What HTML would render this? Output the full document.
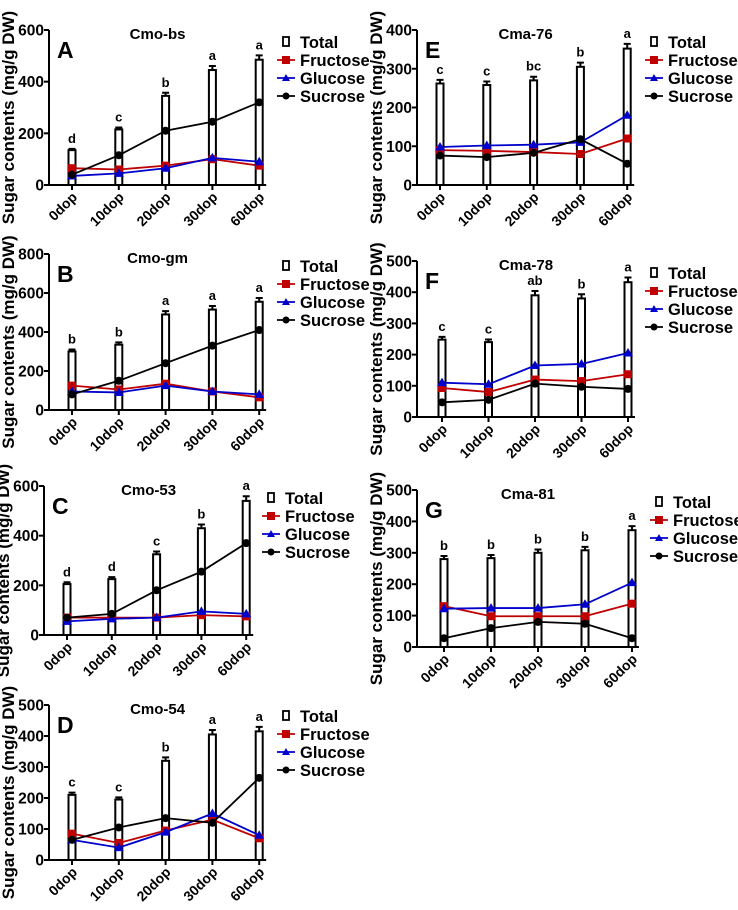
<!DOCTYPE html>
<html><head><meta charset="utf-8"><style>
html,body{margin:0;padding:0;background:#fff;}
svg{display:block;font-family:"Liberation Sans",Arial,sans-serif;font-weight:bold;}
</style></head><body>
<svg id="fig" width="738" height="910" viewBox="0 0 738 910" xmlns="http://www.w3.org/2000/svg"></svg>
<script>
const categories = ["0dop","10dop","20dop","30dop","60dop"];
const panelIds = ["A","B","C","D","E","F","G"];
const panelTitles = ["Cmo-bs","Cmo-gm","Cmo-53","Cmo-54","Cma-76","Cma-78","Cma-81"];
const yMaxes = [600,800,600,500,400,500,500];
const ySteps = [200,200,200,100,100,100,100];
const totalA = [135,215,345,445,485];
const totalB = [300,335,490,515,555];
const totalC = [205,225,325,430,540];
const totalD = [210,195,320,405,415];
const totalE = [262,258,270,305,352];
const totalF = [248,240,390,380,432];
const totalG = [280,283,300,308,372];
const letterA = ["d","c","b","a","a"];
const letterB = ["b","b","a","a","a"];
const letterC = ["d","d","c","b","a"];
const letterD = ["c","c","b","a","a"];
const letterE = ["c","c","bc","b","a"];
const letterF = ["c","c","ab","b","a"];
const letterG = ["b","b","b","b","a"];
const fruA = [65,60,75,100,75];
const gluA = [35,45,65,105,90];
const sucA = [40,115,210,245,320];
const fruB = [125,105,135,95,65];
const gluB = [95,90,125,95,80];
const sucB = [80,150,240,330,410];
const fruC = [70,70,70,80,75];
const gluC = [55,65,70,95,85];
const sucC = [70,85,180,255,370];
const fruD = [85,55,95,130,70];
const gluD = [65,40,90,150,80];
const sucD = [65,105,135,120,265];
const fruE = [90,88,85,80,120];
const gluE = [98,102,104,110,180];
const sucE = [76,72,83,118,55];
const fruF = [93,80,120,115,137];
const gluF = [110,105,165,170,205];
const sucF = [47,55,107,97,90];
const fruG = [130,98,98,98,138];
const gluG = [122,124,124,136,205];
const sucG = [28,60,80,74,28];
const totals = [totalA,totalB,totalC,totalD,totalE,totalF,totalG];
const letters = [letterA,letterB,letterC,letterD,letterE,letterF,letterG];
const frus = [fruA,fruB,fruC,fruD,fruE,fruF,fruG];
const glus = [gluA,gluB,gluC,gluD,gluE,gluF,gluG];
const sucs = [sucA,sucB,sucC,sucD,sucE,sucF,sucG];

const layout = [
 {ax:49,top:30,zero:185,x0:72,dx:46.8,lx:278,ly:42},
 {ax:49,top:254,zero:410,x0:72,dx:46.8,lx:278,ly:266},
 {ax:44,top:486,zero:635,x0:67,dx:44.8,lx:263,ly:498},
 {ax:49,top:705,zero:860,x0:72,dx:46.8,lx:278,ly:716},
 {ax:417,top:30,zero:185,x0:440,dx:46.8,lx:646,ly:42},
 {ax:417,top:261,zero:417,x0:442,dx:46.5,lx:646,ly:273},
 {ax:417,top:490,zero:647,x0:444,dx:47,lx:651,ly:502}
];
const NS="http://www.w3.org/2000/svg";
const svg=document.getElementById('fig');
function mk(tag,attrs,parent,text){const e=document.createElementNS(NS,tag);for(const k in attrs)e.setAttribute(k,attrs[k]);if(text!==undefined)e.textContent=text;(parent||svg).appendChild(e);return e;}

panelIds.forEach((pid,p)=>{
  const L=layout[p];
  const g=mk('g',{});
  
  
  const yMax=yMaxes[p];
  const y=v=>L.zero-(v/yMax)*(L.zero-L.top);
  const x=i=>L.x0+i*L.dx;
  const axEnd=x(4)+7;
  const yt=mk('text',{x:0,y:0,'font-size':17,'text-anchor':'middle',transform:`translate(${L.ax-35},${(L.top+L.zero)/2+10}) rotate(-90)`},g,'Sugar contents (mg/g DW)');
  
  
  const ya=mk('line',{x1:L.ax,y1:L.top,x2:L.ax,y2:L.zero,stroke:'#000','stroke-width':2},g);
  
  
  const xa=mk('line',{x1:L.ax-1,y1:L.zero,x2:axEnd,y2:L.zero,stroke:'#000','stroke-width':2},g);
  
  
  for(let v=0;v<=yMax;v+=ySteps[p]){
    mk('line',{x1:L.ax-5,y1:y(v),x2:L.ax,y2:y(v),stroke:'#000','stroke-width':2},g);
    const t=mk('text',{x:L.ax-5,y:y(v)+5.5,'font-size':15.5,'text-anchor':'end'},g,String(v));
    
    
  }
  categories.forEach((c,i)=>{
    mk('line',{x1:x(i),y1:L.zero,x2:x(i),y2:L.zero+5,stroke:'#000','stroke-width':2},g);
    const t=mk('text',{x:0,y:0,'font-size':14,'text-anchor':'end',transform:`translate(${x(i)+6},${L.zero+13}) rotate(-45)`},g,c);
    
    
    const tv=totals[p][i];
    const b=mk('rect',{x:x(i)-3.5,y:y(tv),width:7,height:L.zero-y(tv),fill:'#fff',stroke:'#000','stroke-width':2},g);
    
    
    const err=tv*0.035;
    mk('path',{d:`M${x(i)},${y(tv)} V${y(tv+err)} M${x(i)-3.5},${y(tv+err)} H${x(i)+3.5}`,stroke:'#000','stroke-width':2,fill:'none'},g);
    const lt=mk('text',{x:x(i),y:y(tv+err)-6,'font-size':13,'text-anchor':'middle'},g,letters[p][i]);
    
    
  });
  const series=[[frus[p],'#c00000','sq','fructose'],[glus[p],'#0000cc','tri','glucose'],[sucs[p],'#000','dot','sucrose']];
  series.forEach(([vals,col,mark,nm])=>{
    const pl=mk('polyline',{points:vals.map((v,i)=>x(i)+','+y(v)).join(' '),fill:'none',stroke:col,'stroke-width':1.8},g);
    
    
    vals.forEach((v,i)=>{
      let m;
      if(mark==='sq')m=mk('rect',{x:x(i)-4,y:y(v)-4,width:8,height:8,fill:col},g);
      else if(mark==='tri')m=mk('path',{d:`M${x(i)},${y(v)-5} L${x(i)+5},${y(v)+3.5} L${x(i)-5},${y(v)+3.5}Z`,fill:col},g);
      else m=mk('circle',{cx:x(i),cy:y(v),r:4,fill:col},g);
      
      
    });
  });
  const tt=mk('text',{x:(L.ax+axEnd)/2,y:L.top+9,'font-size':15,'text-anchor':'middle'},g,panelTitles[p]);
  
  
  const pl=mk('text',{x:L.ax+8,y:L.top+28,'font-size':23},g,pid);
  
  
  const lg=mk('g',{},g);
  
  
  const names=['Total','Fructose','Glucose','Sucrose'];
  const cols=['#000','#c00000','#0000cc','#000'];
  names.forEach((n,k)=>{
    const cy=L.ly+k*18;
    const ix=L.lx+8;
    if(k===0){mk('rect',{x:ix-3,y:cy-5,width:6,height:9,fill:'#fff',stroke:'#000','stroke-width':1.8},lg);}
    else{
      mk('line',{x1:ix-9,y1:cy,x2:ix+9,y2:cy,stroke:cols[k],'stroke-width':1.8},lg);
      if(k===1)mk('rect',{x:ix-4,y:cy-4,width:8,height:8,fill:cols[k]},lg);
      else if(k===2)mk('path',{d:`M${ix},${cy-4} L${ix+4},${cy+3} L${ix-4},${cy+3}Z`,fill:cols[k]},lg);
      else mk('circle',{cx:ix,cy:cy,r:3.5,fill:cols[k]},lg);
    }
    const t=mk('text',{x:L.lx+22,y:cy+6,'font-size':16.5},lg,n);
    
    
  });
});
</script>
</body></html>
